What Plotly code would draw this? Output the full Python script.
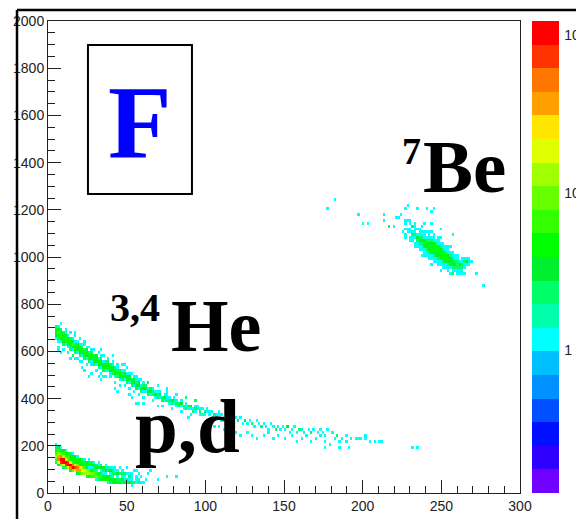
import numpy as np
import plotly.graph_objects as go

# ---------------- data ----------------
# Histogram binning: 200 x-bins over 0..300, 160 y-bins over 0..2000
X_BIN = 1.5
Y_BIN = 12.5

# proton band (lower p,d locus): column x, lowest filled y, counts upward
p_x = [4.5, 6, 7.5, 9, 10.5, 12, 13.5, 15, 16.5, 18, 19.5, 21, 22.5, 24, 25.5, 27, 28.5,
       30, 31.5, 33, 34.5, 36, 37.5, 39, 40.5, 42, 43.5, 45, 46.5, 48, 49.5, 51, 52.5,
       54, 55.5, 57, 58.5, 60, 61.5]
p_y0 = [125, 112.5, 112.5, 100, 100, 100, 87.5, 87.5, 87.5, 75, 75, 75, 75, 62.5, 62.5, 62.5, 62.5,
        50, 50, 50, 50, 50, 37.5, 37.5, 37.5, 37.5, 37.5, 37.5, 37.5, 37.5, 37.5, 37.5, 25,
        37.5, 37.5, 37.5, 37.5, 37.5, 50]
p_counts = [[2, 6, 12, 4], [3, 20, 60, 40, 8], [8, 70, 110, 45, 5], [2, 30, 120, 90, 10],
            [6, 80, 130, 30, 2], [20, 110, 70, 8], [4, 60, 100, 25, 1], [10, 90, 60, 6],
            [25, 70, 30, 2], [3, 40, 45, 10], [6, 35, 25, 3], [10, 28, 12, 1], [14, 20, 6],
            [2, 15, 14, 3], [4, 12, 9, 1], [6, 10, 4], [7, 8, 2], [1, 8, 6, 1], [2, 6, 4],
            [3, 6, 2], [4, 5, 1], [5, 3, 1], [1, 4, 3], [2, 5, 2], [3, 4, 1], [3, 3], [4, 2, 1],
            [3, 2], [2, 3], [3, 1], [2, 2], [3, 1], [1, 2, 1], [2], [1, 1], [2], [1, 0, 1], [1], [1]]

# deuteron band (upper p,d locus)
d_x = [4.5, 6, 7.5, 9, 10.5, 12, 13.5, 15, 16.5, 18, 19.5, 21, 22.5, 24, 25.5, 27, 28.5, 30,
       31.5, 33, 34.5, 36, 37.5, 39, 40.5, 42, 43.5, 45, 46.5, 48, 49.5, 51, 52.5, 54, 55.5, 57]
d_y0 = [162.5, 162.5, 150, 150, 150, 137.5, 137.5, 137.5, 125, 125, 125, 112.5, 112.5, 112.5,
        112.5, 100, 100, 100, 100, 87.5, 87.5, 87.5, 87.5, 75, 75, 75, 75, 75, 62.5, 62.5,
        62.5, 62.5, 62.5, 75, 62.5, 50]
d_counts = [[3, 5, 2, 1], [4, 6, 3], [2, 6, 5, 1], [4, 6, 3], [5, 5, 1], [2, 6, 4], [4, 5, 2],
            [5, 4, 1], [2, 5, 3], [4, 5, 1], [5, 3], [2, 5, 2], [3, 4, 1], [4, 3], [3, 2, 1],
            [1, 4, 2], [2, 3, 1], [3, 2], [3, 1, 1], [1, 3, 2], [2, 3], [3, 1, 1], [2, 2],
            [1, 3, 1], [2, 2, 1], [2, 1, 1], [3, 1], [2, 0, 1], [1, 2, 1], [1, 2], [0, 1, 0, 1],
            [2, 1], [1, 1], [0, 1], [1], [1, 0, 1]]

# isolated p,d cells
pd_sx = [63, 64.5, 75, 81, 55.5, 69]
pd_sy = [75, 87.5, 62.5, 62.5, 87.5, 50]

# 3,4He band
he_x = [4.5, 6, 7.5, 9, 10.5, 12, 13.5, 15, 16.5, 18, 19.5, 21, 22.5, 24, 25.5, 27, 28.5, 30,
        31.5, 33, 34.5, 36, 37.5, 39, 40.5, 42, 43.5, 45, 46.5, 48, 49.5, 51, 52.5, 54, 55.5,
        57, 58.5, 60, 61.5, 63, 64.5, 66, 67.5, 69, 70.5, 72, 73.5, 75, 76.5, 78, 79.5, 81,
        82.5, 84, 85.5, 87, 88.5, 90, 91.5, 93, 94.5, 96, 97.5, 99, 100.5, 102, 103.5, 105,
        106.5, 108, 109.5, 111, 112.5, 114, 115.5]
he_y0 = [650, 637.5, 637.5, 625, 625, 612.5, 600, 600, 587.5, 587.5, 575, 575, 562.5, 562.5,
         550, 550, 537.5, 537.5, 525, 525, 512.5, 512.5, 512.5, 500, 500, 487.5, 487.5, 475,
         475, 475, 462.5, 462.5, 450, 450, 437.5, 437.5, 425, 425, 425, 412.5, 412.5, 412.5,
         400, 400, 400, 387.5, 387.5, 387.5, 375, 375, 375, 362.5, 362.5, 362.5, 350, 350,
         350, 350, 337.5, 337.5, 337.5, 337.5, 325, 325, 325, 325, 312.5, 312.5, 312.5,
         312.5, 300, 300, 300, 300, 300]
he_counts = [[1, 3, 5, 4, 2], [1, 2, 5, 6, 3, 1], [1, 4, 6, 5, 2], [2, 3, 5, 5, 2], [1, 5, 6, 3, 1],
             [1, 3, 5, 4, 1], [2, 2, 5, 5, 2], [1, 3, 6, 3, 1], [2, 4, 5, 2, 1], [1, 3, 5, 3, 1],
             [2, 3, 5, 4, 1], [1, 3, 5, 2, 1], [2, 4, 4, 2], [1, 3, 5, 3, 1], [2, 4, 4, 2],
             [1, 3, 5, 2, 1], [2, 4, 3, 2], [1, 3, 5, 3], [2, 4, 4, 1], [1, 3, 4, 2, 1],
             [2, 5, 3, 1], [1, 3, 4, 2], [1, 4, 3, 2], [1, 3, 5, 2], [2, 4, 3, 1], [1, 3, 4, 2],
             [2, 4, 2, 1], [1, 3, 4, 2], [2, 4, 2, 1], [1, 4, 3, 1], [2, 3, 3, 1], [1, 3, 3, 1],
             [2, 4, 2], [1, 3, 3, 1], [2, 3, 2, 1], [1, 3, 3, 1], [2, 4, 1], [1, 3, 2, 1],
             [1, 3, 2], [2, 3, 1], [1, 3, 2], [2, 2, 1], [1, 3, 1], [2, 2, 1], [1, 3, 1], [2, 2],
             [1, 3, 1], [2, 1, 1], [1, 2, 1], [2, 3], [1, 2, 1], [1, 2, 1], [2, 2], [1, 3, 1],
             [1, 2], [2, 1, 1], [1, 2], [1, 3], [2, 1], [1, 2, 1], [0, 1, 1], [2, 1], [1, 0, 1],
             [1, 2], [0, 1, 1], [1, 1], [1, 0, 1], [0, 2], [1, 1], [0, 1, 1], [1, 0, 1], [1, 1],
             [0, 1], [1, 0, 1], [1, 1]]

# edge cells just below / above the He band (count 1)
heb_x = [6, 9, 12, 15, 18, 21, 24, 27, 30, 33, 36, 39, 42, 45, 48, 51, 54, 57, 60, 66, 72,
         78, 84, 90]
heb_y = [612.5, 600, 587.5, 575, 562.5, 550, 537.5, 537.5, 512.5, 500, 487.5, 487.5, 462.5,
         450, 450, 437.5, 425, 412.5, 400, 387.5, 362.5, 350, 337.5, 325]
hea_x = [7.5, 10.5, 13.5, 16.5, 19.5, 22.5, 25.5, 28.5, 31.5, 34.5, 37.5, 40.5, 43.5, 46.5,
         49.5, 52.5, 55.5, 58.5, 63, 69, 75, 81, 87, 93]
hea_y = [712.5, 687.5, 675, 662.5, 650, 625, 612.5, 600, 587.5, 575, 562.5, 550, 537.5,
         537.5, 525, 500, 487.5, 475, 462.5, 450, 437.5, 412.5, 400, 387.5]

# He tail and scattered He cells (x, y, counts)
het_x = [117, 118.5, 120, 121.5, 123, 124.5, 126, 127.5, 129, 130.5, 132, 133.5, 135, 136.5,
         138, 139.5, 141, 142.5, 144, 145.5, 147, 148.5, 150, 151.5, 153, 154.5, 156, 157.5,
         159, 160.5, 162, 165, 166.5, 168, 171, 172.5, 174, 175.5, 177, 180, 183, 186, 189,
         192, 195, 198, 201, 204, 207, 210,
         117, 118.5, 121.5, 126, 129, 132, 136.5, 139.5, 142.5, 145.5, 150, 154.5, 157.5,
         160.5, 163.5, 166.5, 169.5, 172.5, 175.5, 178.5, 181.5, 184.5, 189, 196.5, 201,
         211.5, 175.5, 184.5, 190.5, 231, 234, 99, 108, 111, 88.5, 105, 96,
         6, 7.5, 13.5, 15, 16.5, 19.5, 21, 22.5, 25.5, 27, 31.5, 33, 34.5, 42, 43.5, 51, 52.5,
         55.5, 57, 60, 16.5, 22.5, 33, 40.5, 48, 63, 75, 87, 93, 69]
het_y = [300, 312.5, 300, 312.5, 287.5, 300, 287.5, 300, 287.5, 275, 300, 287.5, 275, 287.5,
         275, 262.5, 287.5, 275, 262.5, 275, 262.5, 275, 262.5, 275, 250, 262.5, 275, 250,
         262.5, 262.5, 250, 262.5, 250, 262.5, 250, 262.5, 250, 237.5, 262.5, 250, 237.5, 225,
         237.5, 225, 225, 225, 225, 212.5, 212.5, 212.5,
         262.5, 250, 237.5, 250, 237.5, 225, 237.5, 250, 225, 237.5, 225, 237.5, 212.5,
         225, 237.5, 212.5, 225, 237.5, 212.5, 200, 225, 212.5, 212.5, 225, 237.5,
         212.5, 187.5, 187.5, 187.5, 187.5, 187.5, 287.5, 275, 262.5, 312.5, 275, 325,
         600, 587.5, 562.5, 575, 562.5, 550, 525, 512.5, 487.5, 500, 487.5, 475, 487.5, 437.5,
         425, 412.5, 400, 375, 375, 375, 675, 637.5, 600, 575, 537.5, 462.5, 425, 400, 387.5,
         362.5]
het_c = [1, 1, 2, 1, 1, 3, 1, 1, 2, 1, 1, 1, 2, 1, 1, 1, 1, 1, 2, 1, 1, 1, 1, 3, 1, 1, 1, 1,
         2, 1, 1, 1, 2, 1, 1, 1, 1, 1, 1, 1, 2, 1, 1, 1, 1, 1, 1, 1, 1, 1,
         1, 1, 1, 1, 1, 1, 1, 1, 1, 1, 1, 1, 1, 1, 1, 1, 1, 1, 1, 1, 1, 1, 1, 1, 1,
         1, 1, 1, 1, 1, 1, 1, 1, 1, 1, 1, 1,
         1, 1, 1, 1, 1, 1, 1, 1, 1, 1, 1, 1, 1, 1, 1, 1, 1, 1, 1, 1, 1, 1, 1, 1, 1, 1, 1, 1,
         1, 1]

# 7Be cluster columns
be_x = [226.5, 228, 229.5, 231, 232.5, 234, 235.5, 237, 238.5, 240, 241.5, 243, 244.5, 246,
        247.5, 249, 250.5, 252, 253.5, 255, 256.5, 258, 259.5, 261, 262.5, 264, 265.5, 267,
        268.5]
be_y0 = [1087.5, 1087.5, 1075, 1062.5, 1050, 1037.5, 1037.5, 1025, 1012.5, 1000, 1000, 987.5,
         987.5, 975, 975, 962.5, 962.5, 950, 950, 950, 937.5, 937.5, 937.5, 925, 937.5, 950,
         962.5, 962.5, 962.5]
be_counts = [[1, 0, 1, 0, 1], [0, 1, 1, 0], [1, 0, 1, 1, 0, 1], [1, 1, 2, 1, 0, 1],
             [1, 0, 1, 2, 1, 1], [1, 1, 2, 3, 1, 0, 1], [1, 2, 3, 2, 1, 1],
             [1, 1, 2, 3, 2, 1, 1], [1, 1, 3, 4, 3, 1, 1], [1, 1, 2, 3, 4, 2, 1, 0, 1],
             [1, 2, 3, 4, 3, 2, 1, 1], [1, 1, 3, 4, 5, 3, 2, 1], [1, 2, 3, 5, 4, 3, 1, 1],
             [1, 1, 3, 4, 5, 4, 2, 1], [1, 2, 3, 5, 4, 3, 1, 1], [1, 1, 3, 4, 5, 3, 2, 1],
             [1, 2, 4, 5, 3, 2, 1], [1, 1, 3, 4, 4, 2, 1, 1], [1, 2, 3, 4, 3, 1, 1],
             [1, 3, 3, 3, 2, 1], [1, 2, 3, 3, 2, 1], [1, 2, 3, 2, 1, 1], [1, 2, 2, 2, 1],
             [1, 1, 2, 3, 1], [1, 2, 2, 1], [1, 1, 2, 1], [1, 3, 1], [1, 1, 1], [0, 1]]

# cells on the rim of the 7Be cluster (count 1)
ber_x = [226.5, 226.5, 229.5, 229.5, 232.5, 232.5, 235.5, 235.5, 238.5, 238.5, 241.5, 241.5,
         244.5, 244.5, 247.5, 247.5, 250.5, 250.5, 253.5, 253.5, 256.5, 256.5, 259.5, 259.5,
         262.5, 262.5, 237, 237, 243, 243, 249, 249, 255, 255]
ber_y = [1075, 1150, 1062.5, 1150, 1037.5, 1125, 1025, 1112.5, 1000, 1100, 987.5, 1100,
         975, 1087.5, 962.5, 1075, 950, 1050, 937.5, 1037.5, 925, 1012.5, 925, 1000,
         925, 987.5, 1000, 1125, 962.5, 1100, 937.5, 1075, 925, 1037.5]

# scattered Be cells
bes_x = [256.5, 264, 271.5, 276, 226.5, 228, 234, 240, 243, 244.5, 220.5, 222, 228, 217,
         225, 231, 232.5, 238.5, 243, 249, 256.5, 181.5, 177, 196.5, 199.5, 202.5, 213, 213,
         216, 219, 223.5]
bes_y = [925, 925, 925, 875, 1200, 1212.5, 1200, 1200, 1187.5, 1200, 1162.5, 1162.5, 1150,
         1125, 1100, 1125, 1137.5, 1137.5, 1137.5, 1112.5, 1087.5, 1237.5, 1200, 1175,
         1137.5, 1137.5, 1175, 1150, 1125, 1125, 1175]

# colour bar
z_min_log = -0.905
z_max_log = 2.09
cbar_vals = [0, 1, 2]
cbar_text = ["1", "10", "10<sup>2</sup>"]
palette = ["#7000FF", "#3000FF", "#0010FF", "#0050FF", "#0090FF", "#00BFFF", "#00FFFF",
           "#00FFAA", "#00FF66", "#00F030", "#00FF00", "#33FF00", "#66FF00", "#A0FF00",
           "#E0FF00", "#FFE600", "#FFA000", "#FF7700", "#FF3300", "#FF0000"]

# ---------------- build the histogram grid ----------------
NX, NY = 200, 160
grid = np.zeros((NY, NX))


def add(x, y, c):
    ix = int(np.floor(x / X_BIN + 1e-6))
    iy = int(np.floor(y / Y_BIN + 1e-6))
    if 0 <= ix < NX and 0 <= iy < NY:
        grid[iy, ix] += c


for xs, y0s, cols in [(p_x, p_y0, p_counts), (d_x, d_y0, d_counts),
                      (he_x, he_y0, he_counts), (be_x, be_y0, be_counts)]:
    for x, y0, cl in zip(xs, y0s, cols):
        for j, c in enumerate(cl):
            if c:
                add(x, y0 + Y_BIN * j, c)
for xs, ys in [(pd_sx, pd_sy), (heb_x, heb_y), (hea_x, hea_y), (ber_x, ber_y),
               (bes_x, bes_y)]:
    for x, y in zip(xs, ys):
        add(x, y, 1)
for x, y, c in zip(het_x, het_y, het_c):
    add(x, y, c)

z = np.full(grid.shape, np.nan)
mask = grid > 0
z[mask] = np.log10(grid[mask])

n = len(palette)
cscale = []
for i, col in enumerate(palette):
    cscale.append([i / n, col])
    cscale.append([(i + 1) / n, col])

# ---------------- layout geometry ----------------
W, H = 576, 519
L, R, T, B = 48, 56, 21, 26
PW = W - L - R
PH = H - T - B

font_fam = "Liberation Sans Narrow, Arial Narrow, Liberation Sans, Arial"

fig = go.Figure()
fig.add_trace(go.Heatmap(
    z=z, x0=X_BIN / 2, dx=X_BIN, y0=Y_BIN / 2, dy=Y_BIN,
    colorscale=cscale, zmin=z_min_log, zmax=z_max_log, zsmooth=False,
    hoverinfo="skip",
    colorbar=dict(
        x=1 + (532 - 520) / PW, xanchor="left", xpad=0,
        y=0.5, yanchor="middle", ypad=0, len=1, lenmode="fraction",
        thickness=27, outlinewidth=0,
        tickmode="array", tickvals=cbar_vals, ticktext=cbar_text,
        ticks="outside", ticklen=3, tickcolor="rgba(0,0,0,0)",
        tickfont=dict(family=font_fam, size=14, color="#222"),
    ),
))

tick_font = dict(family=font_fam, size=14, color="#222")

fig.update_xaxes(range=[0, 300], tick0=0, dtick=50, ticks="inside", ticklen=13,
                 tickcolor="#222", showline=True, linecolor="#222", linewidth=1,
                 mirror=True, showgrid=False, zeroline=False, tickfont=tick_font,
                 minor=dict(dtick=10, ticks="inside", ticklen=7, tickcolor="#222"))
fig.update_yaxes(range=[0, 2000], tick0=0, dtick=200, ticks="inside", ticklen=13,
                 tickcolor="#222", showline=True, linecolor="#222", linewidth=1,
                 mirror=True, showgrid=False, zeroline=False, tickfont=tick_font,
                 minor=dict(dtick=50, ticks="inside", ticklen=7, tickcolor="#222"))

shapes = []
# colour-bar tick marks (log axis)
bar_right = (559 - L) / PW
for dec in [-1, 0, 1, 2]:
    for k in range(1, 10):
        v = dec + np.log10(k)
        if v < z_min_log or v > z_max_log:
            continue
        yy = (v - z_min_log) / (z_max_log - z_min_log)
        ln = 13 if k == 1 else 7
        shapes.append(dict(type="line", xref="paper", yref="paper",
                           x0=bar_right - ln / PW, x1=bar_right, y0=yy, y1=yy,
                           line=dict(color="#111", width=1)))
# outer canvas frame
fx = (17 - L) / PW
fy = (PH + T - 10) / PH
shapes.append(dict(type="line", xref="paper", yref="paper", x0=fx, x1=fx, y0=-0.2, y1=fy,
                   line=dict(color="black", width=2.5)))
shapes.append(dict(type="line", xref="paper", yref="paper", x0=fx, x1=1.3, y0=fy, y1=fy,
                   line=dict(color="black", width=2.5)))
# box around "F"
shapes.append(dict(type="rect", xref="x", yref="y", x0=25.4, x1=91.5, y0=1267, y1=1898,
                   line=dict(color="black", width=2), fillcolor="white", layer="above"))

serif = "Liberation Serif, Times New Roman, serif"
ann = [
    dict(text="F", x=58.5, y=1320, xanchor="center", yanchor="bottom",
         font=dict(family=serif, size=104, color="#0000FF", weight="bold")),
    dict(text="7", x=224, y=1352, xanchor="left", yanchor="bottom",
         font=dict(family=serif, size=38, color="black", weight="bold")),
    dict(text="Be", x=237, y=1199, xanchor="left", yanchor="bottom",
         font=dict(family=serif, size=75, color="black", weight="bold")),
    dict(text="3,4", x=38, y=684, xanchor="left", yanchor="bottom",
         font=dict(family=serif, size=40, color="black", weight="bold")),
    dict(text="He", x=77, y=525, xanchor="left", yanchor="bottom",
         font=dict(family=serif, size=74, color="black", weight="bold")),
    dict(text="p,d", x=54, y=92, xanchor="left", yanchor="bottom",
         font=dict(family=serif, size=77, color="black", weight="bold")),
]
for a in ann:
    a.update(xref="x", yref="y", showarrow=False)

fig.update_layout(
    width=W, height=H, margin=dict(l=L, r=R, t=T, b=B, pad=0, autoexpand=False),
    paper_bgcolor="white", plot_bgcolor="white",
    shapes=shapes, annotations=ann, showlegend=False,
)

fig.write_html("out.html")
